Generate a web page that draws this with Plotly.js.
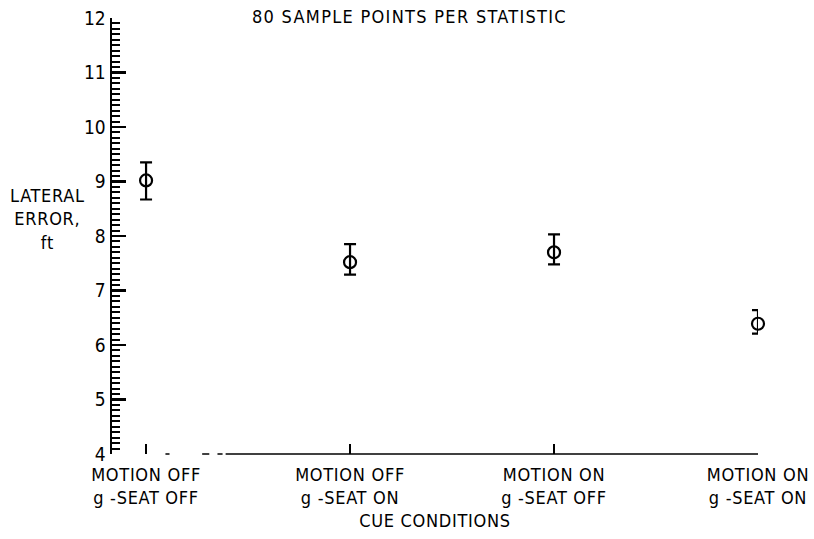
<!DOCTYPE html>
<html>
<head>
<meta charset="utf-8">
<script src="https://cdn.plot.ly/plotly-3.0.1.min.js"></script>
<style>
html, body { margin: 0; padding: 0; background: #fff; }
#chart { width: 814px; height: 539px; }
.xtick text, .annotation-text, .g-xtitle text { letter-spacing: 0.7px; }
.gtitle { letter-spacing: 1.3px; }
</style>
</head>
<body>
<div id="chart"></div>
<script>
// Data
const categories = [
  "MOTION OFF<br>g -SEAT OFF",
  "MOTION OFF<br>g -SEAT ON",
  "MOTION ON<br>g -SEAT OFF",
  "MOTION ON<br>g -SEAT ON"
];
const meanError = [9.02, 7.52, 7.70, 6.39];
const upperBound = [9.35, 7.85, 8.03, 6.64];
const lowerBound = [8.67, 7.29, 7.48, 6.21];
const yTickValues = [4, 5, 6, 7, 8, 9, 10, 11, 12];

const errPlus = upperBound.map((u, i) => +(u - meanError[i]).toFixed(3));
const errMinus = lowerBound.map((l, i) => +(meanError[i] - l).toFixed(3));

const FONT = "DejaVu Sans Condensed, DejaVu Sans, sans-serif";

const trace = {
  type: "scatter",
  mode: "markers",
  x: [0, 1, 2, 3],
  y: meanError,
  cliponaxis: false,
  marker: {
    symbol: "circle-open",
    size: 12,
    color: "#000",
    line: { width: 2.2, color: "#000" }
  },
  error_y: {
    type: "data",
    symmetric: false,
    array: errPlus,
    arrayminus: errMinus,
    color: "#000",
    thickness: 2.2,
    width: 6
  },
  hoverinfo: "skip"
};

const black = "#000";
const layout = {
  width: 814,
  height: 539,
  margin: { l: 112, r: 56, t: 18, b: 85 },
  paper_bgcolor: "#fff",
  plot_bgcolor: "#fff",
  showlegend: false,
  font: { family: FONT, color: black, size: 18 },
  title: {
    text: "80 SAMPLE POINTS PER STATISTIC",
    font: { family: FONT, size: 18, color: black },
    x: 0.503, xanchor: "center",
    y: 0.969, yanchor: "middle"
  },
  xaxis: {
    type: "linear",
    range: [-0.167, 3.0],
    tickmode: "array",
    tickvals: [0, 1, 2, 3],
    ticktext: categories,
    ticks: "inside",
    ticklen: 10,
    tickwidth: 2,
    tickcolor: black,
    ticklabelstandoff: 8,
    showline: false,
    showgrid: false,
    zeroline: false,
    tickfont: { family: FONT, size: 18, color: black },
    title: {
      text: "CUE CONDITIONS",
      font: { family: FONT, size: 18, color: black },
      standoff: 6
    }
  },
  yaxis: {
    range: [4, 12],
    tickmode: "array",
    tickvals: yTickValues,
    ticks: "inside",
    ticklen: 14,
    tickwidth: 2.2,
    tickcolor: black,
    showline: true,
    linewidth: 2.5,
    linecolor: black,
    showgrid: false,
    zeroline: false,
    tickfont: { family: FONT, size: 19, color: black },
    minor: { dtick: 0.1, ticks: "inside", ticklen: 8, tickwidth: 2, tickcolor: black, showgrid: false }
  },
  shapes: [
    { type: "line", xref: "x", yref: "paper", x0: 0.39, x1: 3.0, y0: 0, y1: 0, line: { color: black, width: 1.5 } },
    { type: "line", xref: "x", yref: "paper", x0: 0.095, x1: 0.115, y0: 0, y1: 0, line: { color: black, width: 1.5 } },
    { type: "line", xref: "x", yref: "paper", x0: 0.275, x1: 0.31, y0: 0, y1: 0, line: { color: black, width: 1.5 } },
    { type: "line", xref: "x", yref: "paper", x0: 0.35, x1: 0.375, y0: 0, y1: 0, line: { color: black, width: 1.5 } }
  ],
  annotations: [
    {
      text: "LATERAL<br>ERROR,<br>ft",
      xref: "paper", yref: "paper",
      x: -0.1, y: 0.538,
      xanchor: "center", yanchor: "middle",
      showarrow: false,
      align: "center",
      font: { family: FONT, size: 18, color: black }
    }
  ]
};

Plotly.newPlot("chart", [trace], layout, { staticPlot: true, displayModeBar: false });
</script>
</body>
</html>
